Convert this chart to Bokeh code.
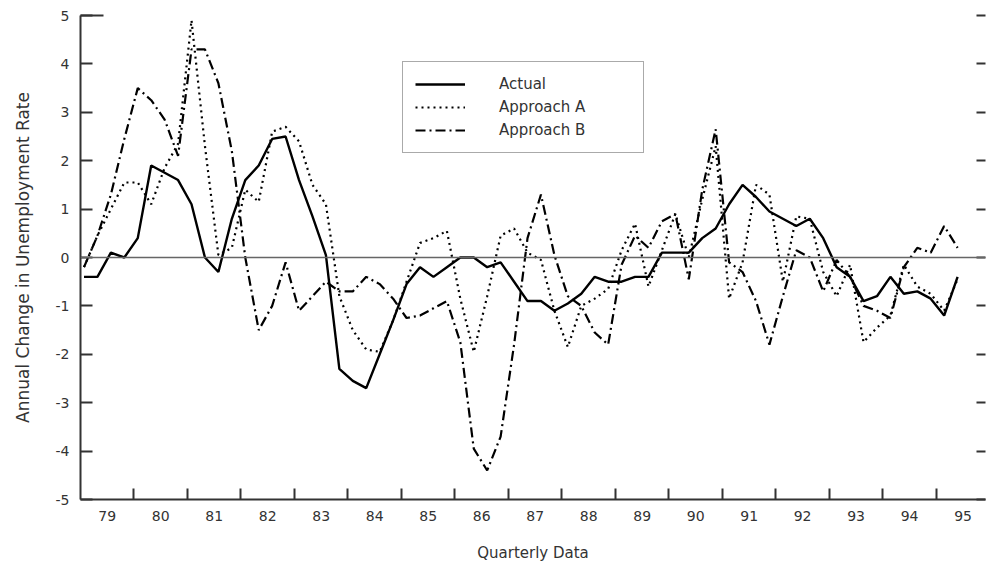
from bokeh.plotting import figure
from bokeh.models import Range1d, LinearAxis, FixedTicker, Span, Legend, LegendItem
from bokeh.embed import file_html
from bokeh.resources import INLINE

# Quarterly observations, 1979Q1 .. 1995Q2
quarters = [1979 + i / 4 for i in range(66)]

actual = [-0.4, -0.4, 0.1, 0.0, 0.4, 1.9, 1.75, 1.6, 1.1, 0.0, -0.3,
          0.8, 1.6, 1.9, 2.45, 2.5, 1.6, 0.85, 0.05, -2.3, -2.55, -2.7,
          -2.0, -1.3, -0.55, -0.2, -0.4, -0.2, 0.0, 0.0, -0.2, -0.1, -0.5,
          -0.9, -0.9, -1.1, -0.95, -0.75, -0.4, -0.5, -0.5, -0.4, -0.4, 0.1,
          0.1, 0.1, 0.4, 0.6, 1.1, 1.5, 1.25, 0.95, 0.8, 0.65, 0.8,
          0.4, -0.2, -0.4, -0.9, -0.8, -0.4, -0.75, -0.7, -0.85, -1.2, -0.4]

approach_a = [-0.2, 0.45, 1.0, 1.55, 1.55, 1.1, 1.85, 2.35, 4.9, 2.3, 0.05,
              0.2, 1.4, 1.15, 2.6, 2.7, 2.4, 1.5, 1.1, -0.8, -1.5, -1.9,
              -1.95, -1.3, -0.5, 0.3, 0.4, 0.55, -0.85, -1.95, -0.8, 0.45, 0.6,
              0.1, -0.05, -1.1, -1.85, -1.0, -0.85, -0.65, 0.15, 0.7, -0.6, 0.15,
              0.9, 0.0, 1.2, 2.3, -0.85, -0.1, 1.5, 1.3, -0.5, 0.85, 0.8,
              -0.3, -0.8, -0.15, -1.75, -1.45, -1.2, -0.15, -0.6, -0.75, -1.1, -0.45]

approach_b = [-0.2, 0.45, 1.3, 2.45, 3.5, 3.25, 2.85, 2.1, 4.3, 4.3, 3.6,
              2.2, 0.0, -1.5, -1.0, -0.1, -1.1, -0.8, -0.5, -0.7, -0.7, -0.4,
              -0.55, -0.85, -1.25, -1.2, -1.05, -0.9, -1.75, -3.95, -4.4, -3.7, -1.8,
              0.4, 1.3, 0.05, -0.8, -1.0, -1.55, -1.8, -0.15, 0.45, 0.2, 0.75,
              0.9, -0.45, 1.4, 2.65, -0.1, -0.3, -0.9, -1.8, -0.8, 0.15, 0.0,
              -0.7, -0.05, -0.4, -1.0, -1.1, -1.25, -0.2, 0.2, 0.1, 0.65, 0.2]

year_starts = list(range(1979, 1996))
year_labels = ["79", "80", "81", "82", "83", "84", "85", "86", "87",
               "88", "89", "90", "91", "92", "93", "94", "95"]
y_ticks = [-5, -4, -3, -2, -1, 0, 1, 2, 3, 4, 5]
y_tick_labels = ["-5", "-4", "-3", "-2", "-1", "0", "1", "2", "3", "4", "5"]

FONT = "DejaVu Sans"
INK = "#333333"
AXIS = "#333333"

p = figure(width=986, height=567, output_backend="svg", toolbar_location=None,
           x_range=Range1d(1978.935, 1995.769), y_range=Range1d(-5, 5),
           x_axis_type=None, y_axis_type=None,
           min_border_left=80, min_border_right=1, min_border_top=15, min_border_bottom=68)
p.outline_line_color = None
p.background_fill_color = "white"
p.border_fill_color = "white"

p.extra_x_ranges = {"years": Range1d(1979.0, 1995.919)}

# left axis (the top tick at 5 is drawn longer)
yaxis = LinearAxis(ticker=FixedTicker(ticks=y_ticks, minor_ticks=[y_ticks[-1]]),
                   major_label_overrides={v: s for v, s in zip(y_ticks, y_tick_labels)},
                   axis_label="Annual Change in Unemployment Rate")
yaxis.axis_line_width = 2
yaxis.axis_line_color = AXIS
yaxis.major_tick_in = 12
yaxis.major_tick_out = 0
yaxis.major_tick_line_width = 2
yaxis.major_tick_line_color = AXIS
yaxis.minor_tick_in = 23
yaxis.minor_tick_out = 0
yaxis.minor_tick_line_width = 2
yaxis.minor_tick_line_color = AXIS
yaxis.major_label_standoff = 11
yaxis.major_label_text_font = FONT
yaxis.major_label_text_font_size = "14px"
yaxis.major_label_text_color = INK
yaxis.axis_label_standoff = 20
yaxis.axis_label_text_font = FONT
yaxis.axis_label_text_font_size = "17px"
yaxis.axis_label_text_font_style = "normal"
yaxis.axis_label_text_color = INK
p.add_layout(yaxis, "left")

# right axis: ticks only, no labels
raxis = LinearAxis(ticker=FixedTicker(ticks=[], minor_ticks=y_ticks))
raxis.axis_line_color = None
raxis.major_tick_line_color = None
raxis.major_tick_in = 0
raxis.major_tick_out = 0
raxis.minor_tick_in = 9
raxis.minor_tick_out = 0
raxis.minor_tick_line_width = 2
raxis.minor_tick_line_color = AXIS
raxis.major_label_standoff = 0
p.add_layout(raxis, "right")

# bottom axis: labels at year centres, ticks at year boundaries
xaxis = LinearAxis(x_range_name="years",
                   ticker=FixedTicker(ticks=[y + 0.5 for y in year_starts],
                                      minor_ticks=year_starts[1:]),
                   major_label_overrides={y + 0.5: s for y, s in zip(year_starts, year_labels)},
                   axis_label="Quarterly Data")
xaxis.axis_line_width = 2
xaxis.axis_line_color = AXIS
xaxis.major_tick_line_color = None
xaxis.major_tick_in = 0
xaxis.major_tick_out = 0
xaxis.minor_tick_in = 11
xaxis.minor_tick_out = 0
xaxis.minor_tick_line_width = 2
xaxis.minor_tick_line_color = AXIS
xaxis.major_label_standoff = 11
xaxis.major_label_text_font = FONT
xaxis.major_label_text_font_size = "14px"
xaxis.major_label_text_color = INK
xaxis.axis_label_standoff = 20
xaxis.axis_label_text_font = FONT
xaxis.axis_label_text_font_size = "15px"
xaxis.axis_label_text_font_style = "normal"
xaxis.axis_label_text_color = INK
p.add_layout(xaxis, "below")

p.add_layout(Span(location=0, dimension="width", line_color="#666666", line_width=1.5))

r_act = p.line(quarters, actual, line_color="black", line_width=2.4)
r_a = p.line(quarters, approach_a, line_color="black", line_width=2.2, line_dash="2 4")
r_b = p.line(quarters, approach_b, line_color="black", line_width=2.2, line_dash="10 4 2 4")

legend = Legend(items=[LegendItem(label="Actual", renderers=[r_act]),
                       LegendItem(label="Approach A", renderers=[r_a]),
                       LegendItem(label="Approach B", renderers=[r_b])],
                location=(322, 346), padding=12, spacing=3, margin=0,
                glyph_width=50, glyph_height=20, label_height=20,
                label_standoff=34, label_width=132,
                border_line_color="#555555", border_line_width=1.5,
                background_fill_color="white", background_fill_alpha=1.0,
                label_text_font=FONT, label_text_font_size="15px", label_text_color=INK)
p.add_layout(legend)

open("out.html", "w").write(file_html(p, INLINE))
